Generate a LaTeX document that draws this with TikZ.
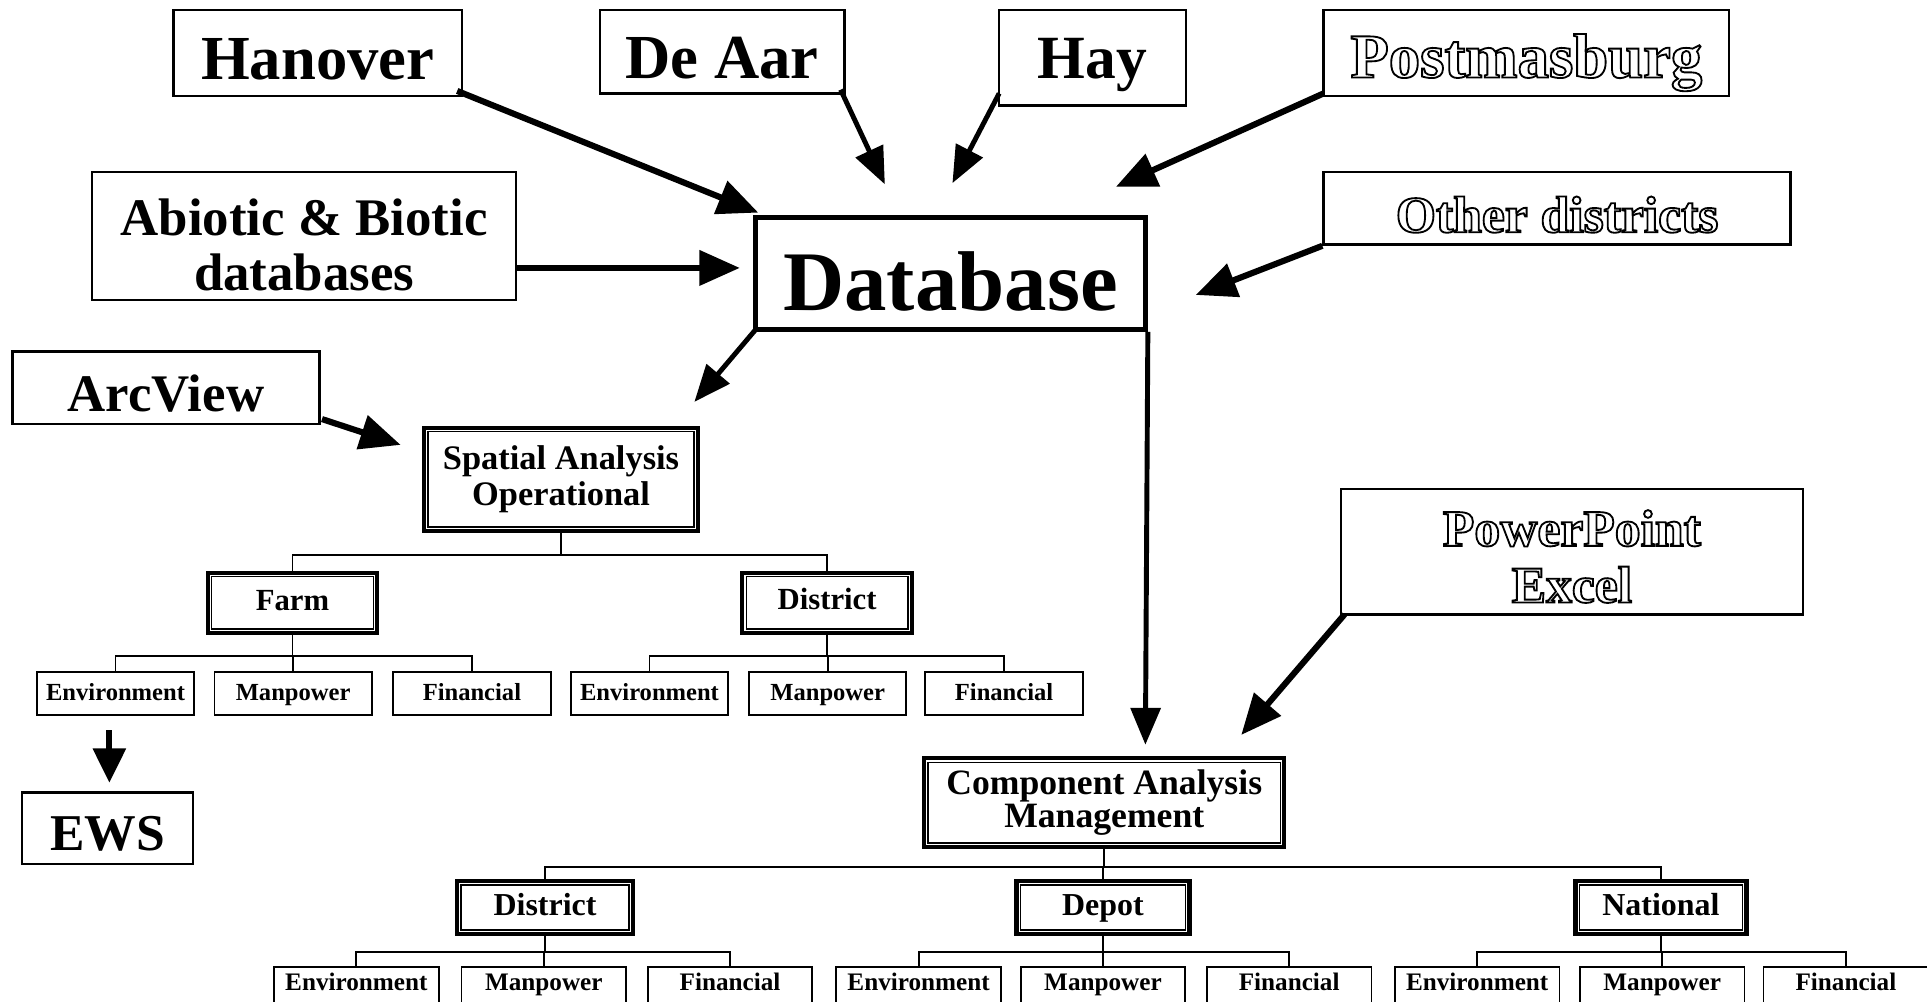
\documentclass[tikz,border=0pt]{standalone}
\usepackage{fontspec}
\usepackage{graphicx}
\setmainfont{Liberation Serif}
\usetikzlibrary{arrows.meta}
\newcommand\outltext[1]{\special{pdf:literal direct 1 Tr 1.5 w}#1\special{pdf:literal direct 0 Tr}}
\newcommand\dropby[2]{\raisebox{-#1}[\height][\depth]{\begin{tabular}{@{}c@{}}#2\end{tabular}}}
\tikzset{
  box/.style={draw, line width=2pt, inner sep=0pt, align=center},
  dbl/.style={draw, line width=3.5pt, inner sep=0pt, align=center},
  leaf/.style={draw, line width=1.5pt, inner sep=0pt, minimum width=128pt, minimum height=35pt, text depth=0pt, text height=11pt, font=\bfseries\fontsize{20}{22}\selectfont},
  leafb/.style={draw, line width=1.5pt, inner sep=0pt, minimum width=134pt, minimum height=32pt, text depth=0pt, text height=6pt, font=\bfseries\fontsize{20.5}{22}\selectfont},
  arr/.style={line width=5pt, -{Triangle[length=33pt,width=28pt]}},
  arrthin/.style={line width=4pt, -{Triangle[length=30pt,width=24pt]}},
  tree/.style={line width=1.5pt},
  inner/.style={line width=1.2pt},
  base/.style={text depth=0pt, text height=#1},
}
\begin{document}
\begin{tikzpicture}[x=1pt,y=-1pt]
\useasboundingbox[fill=white] (0,0) rectangle (1568,815);

% top source boxes
\node[box, base=44pt, minimum width=235pt, minimum height=70pt, font=\bfseries\fontsize{51}{55}\selectfont] (hanover) at (258.5,43) {Hanover};
\node[box, base=44pt, minimum width=199pt, minimum height=68pt, font=\bfseries\fontsize{51}{55}\selectfont] (deaar) at (587.5,42) {De Aar};
\node[box, base=34pt, minimum width=152pt, minimum height=78pt, font=\bfseries\fontsize{50}{55}\selectfont] (hay) at (889,47) {Hay};
\node[box, base=40pt, minimum width=330pt, minimum height=70pt, font=\bfseries\fontsize{51}{55}\selectfont] (postmas) at (1242,43) {\outltext{Postmasburg}};
\node[box, minimum width=345pt, minimum height=104pt, font=\bfseries\fontsize{43}{45}\selectfont] (abiotic) at (247.5,192) {\dropby{13pt}{Abiotic \& Biotic\\databases}};
\node[draw, line width=4pt, inner sep=0pt, base=61pt, minimum width=317pt, minimum height=91pt, font=\bfseries\fontsize{69}{72}\selectfont] (database) at (773.5,222.5) {Database};
\node[box, base=39pt, minimum width=380pt, minimum height=59pt, font=\bfseries\fontsize{42}{46}\selectfont] (other) at (1267,169.5) {\outltext{Other districts}};
\node[box, base=39pt, minimum width=250pt, minimum height=59pt, font=\bfseries\fontsize{43}{47}\selectfont] (arcview) at (135,315.5) {ArcView};
\node[box, minimum width=376pt, minimum height=102pt, font=\bfseries\fontsize{42}{46}\selectfont] (ppt) at (1279,449) {\dropby{9pt}{\outltext{PowerPoint}\\\outltext{Excel}}};
\node[box, base=36pt, minimum width=139pt, minimum height=58pt, font=\bfseries\fontsize{42}{46}\selectfont] (ews) at (87.5,674) {EWS};

% spatial tree
\node[dbl, minimum width=223pt, minimum height=84pt, font=\bfseries\fontsize{28}{29}\selectfont] (spatial) at (456.5,390) {Spatial Analysis\\Operational};
\node[dbl, base=13pt, minimum width=138pt, minimum height=49pt, font=\bfseries\fontsize{25}{27}\selectfont] (farm) at (238,490.5) {Farm};
\node[dbl, base=11pt, minimum width=138pt, minimum height=49pt, font=\bfseries\fontsize{25}{27}\selectfont] (distA) at (673,490.5) {District};
\node[leaf] (envA) at (94,564.5) {Environment};
\node[leaf] (manA) at (238.5,564.5) {Manpower};
\node[leaf] (finA) at (384,564.5) {Financial};
\node[leaf] (envB) at (528.5,564.5) {Environment};
\node[leaf] (manB) at (673.5,564.5) {Manpower};
\node[leaf] (finB) at (817,564.5) {Financial};

% component tree
\node[dbl, minimum width=293pt, minimum height=72pt, font=\bfseries\fontsize{29}{25}\selectfont] (comp) at (898.5,653) {Component Analysis\\Management};
\node[dbl, base=13pt, minimum width=143pt, minimum height=43pt, font=\bfseries\fontsize{26}{28}\selectfont] (distB) at (443.5,738.5) {District};
\node[dbl, base=13pt, minimum width=141pt, minimum height=43pt, font=\bfseries\fontsize{26}{28}\selectfont] (depot) at (897.5,738.5) {Depot};
\node[dbl, base=13pt, minimum width=139pt, minimum height=43pt, font=\bfseries\fontsize{26}{28}\selectfont] (national) at (1351.5,738.5) {National};
\node[leafb] (envC) at (290,803) {Environment};
\node[leafb] (manC) at (442.5,803) {Manpower};
\node[leafb] (finC) at (594,803) {Financial};
\node[leafb] (envD) at (747.5,803) {Environment};
\node[leafb] (manD) at (897.5,803) {Manpower};
\node[leafb] (finD) at (1049,803) {Financial};
\node[leafb] (envE) at (1202,803) {Environment};
\node[leafb] (manE) at (1352.5,803) {Manpower};
\node[leafb] (finE) at (1502,803) {Financial};

% inner lines of double boxes
\foreach \n in {spatial,farm,distA,comp,distB,depot,national}
  \draw[inner] ([shift={(5pt,-5pt)}]\n.north west) rectangle ([shift={(-5pt,5pt)}]\n.south east);

% tree connectors
\draw[tree] (spatial.south) -- ++(0,18) -| (farm.north);
\draw[tree] (spatial.south) -- ++(0,18) -| (distA.north);
\foreach \p/\c in {farm/envA,farm/manA,farm/finA,distA/envB,distA/manB,distA/finB}
  \draw[tree] (\p.south) -- ++(0,17) -| (\c.north);
\draw[tree] (comp.south) -- ++(0,15) -| (distB.north);
\draw[tree] (comp.south) -- ++(0,15) -| (depot.north);
\draw[tree] (comp.south) -- ++(0,15) -| (national.north);
\foreach \p/\c in {distB/envC,distB/manC,distB/finC,depot/envD,depot/manD,depot/finD,national/envE,national/manE,national/finE}
  \draw[tree] (\p.south) -- ++(0,13) -| (\c.north);

% arrow tips
\coordinate (tHan) at (617,173);
\coordinate (tDeA) at (720,150);
\coordinate (tHay) at (775,149);
\coordinate (tPos) at (908,152);
\coordinate (tAbi) at (602,218);
\coordinate (tOth) at (973,240);
\coordinate (tSpa) at (565,327);
\coordinate (tArc) at (326,362);
\coordinate (tCom) at (932,606);
\coordinate (tPpt) at (1010,598);
\coordinate (sEws) at (89,594);
\coordinate (tEws) at (89,637);

\draw[arr] ([shift={(-5pt,5pt)}]hanover.south east) -- (tHan);
\draw[arrthin] ([shift={(-4pt,4pt)}]deaar.south east) -- (tDeA);
\draw[arrthin] ([shift={(1pt,11pt)}]hay.south west) -- (tHay);
\draw[arr] ([shift={(1pt,3pt)}]postmas.south west) -- (tPos);
\draw[arr] ([yshift=-26pt]abiotic.east) -- (tAbi);
\draw[arr] (other.south west) -- (tOth);
\draw[arrthin] ([shift={(2pt,2pt)}]database.south west) -- (tSpa);
\draw[arr] ([shift={(1pt,5pt)}]arcview.south east) -- (tArc);
\draw[arrthin] (database.south east) -- (tCom);
\draw[arr] ([shift={(4pt,1pt)}]ppt.south west) -- (tPpt);
\draw[line width=5pt, -{Triangle[length=28pt,width=26pt]}] (sEws) -- (tEws);
\end{tikzpicture}
\end{document}
